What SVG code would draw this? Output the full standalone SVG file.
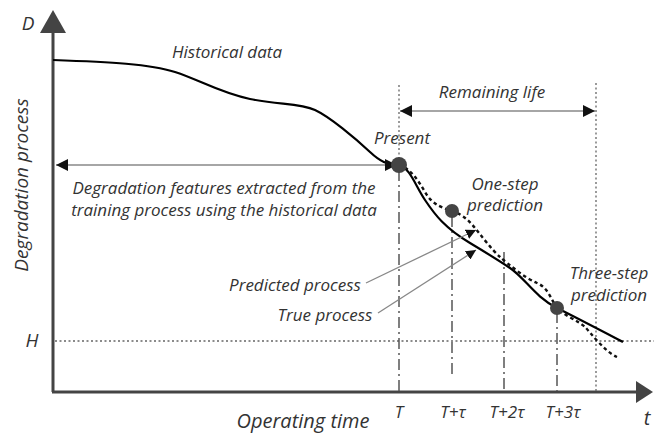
<svg xmlns="http://www.w3.org/2000/svg" width="654" height="434" viewBox="0 0 654 434">
  <defs>
    <style>
      .lbl { font-family: "Open Sans", "Liberation Sans", sans-serif; font-style: italic; fill: #333; }
      .s14 { font-size: 17px; }
      .s17 { font-size: 20px; }
      .axis { stroke: #444; stroke-width: 3; fill: none; }
      .guide { stroke: #666; stroke-width: 1.3; stroke-dasharray: 2,2.5; fill: none; }
      .dashdot { stroke: #555; stroke-width: 1.5; stroke-dasharray: 11,4,2,4; fill: none; }
      .thin { stroke: #888; stroke-width: 1.3; fill: none; }
      .curve { stroke: #000; stroke-width: 2.2; fill: none; }
      .pred { stroke: #111; stroke-width: 2.4; stroke-dasharray: 3.5,3; fill: none; }
      .dot { fill: #444; }
    </style>
    <marker id="tri" viewBox="0 0 10 10" refX="10" refY="5" markerWidth="10" markerHeight="10" markerUnits="userSpaceOnUse" orient="auto-start-reverse">
      <path d="M0,0 L10,5 L0,10 Z" fill="#111"/>
    </marker>
    <marker id="triBig" viewBox="0 0 10 10" refX="10" refY="5" markerWidth="24" markerHeight="12" markerUnits="userSpaceOnUse" orient="auto-start-reverse">
      <path d="M0,0 L10,5 L0,10 Z" fill="#111"/>
    </marker>
  </defs>
  <rect width="654" height="434" fill="#fff"/>

  <!-- axes -->
  <g id="axes">
    <line class="axis" x1="53" y1="392" x2="53" y2="30"/>
    <path d="M40,33 L53,10 L66,33 Z" fill="#444"/>
    <line class="axis" x1="52" y1="392" x2="638" y2="392"/>
    <path d="M636,381 L653,392 L636,403 Z" fill="#444"/>
    <text class="lbl" x="28" y="30" text-anchor="middle" font-size="19">D</text>
    <text class="lbl" x="647" y="425" text-anchor="middle" font-size="20">t</text>
    <text class="lbl" transform="translate(28,185) rotate(-90)" text-anchor="middle" font-size="19">Degradation process</text>
    <text class="lbl s17" x="303" y="428" text-anchor="middle">Operating time</text>
    <text class="lbl" x="32" y="347" text-anchor="middle" font-size="19">H</text>
  </g>

  <!-- threshold and guide lines -->
  <g id="guides">
    <line class="guide" x1="55" y1="341" x2="654" y2="341"/>
    <line class="guide" x1="399" y1="85" x2="399" y2="160"/>
    <line class="guide" x1="596" y1="83" x2="596" y2="391"/>
    <line class="dashdot" x1="399" y1="170" x2="399" y2="391"/>
    <line class="dashdot" x1="452" y1="216" x2="452" y2="378"/>
    <line class="dashdot" x1="504" y1="252" x2="504" y2="391"/>
    <line class="dashdot" x1="557" y1="312" x2="557" y2="391"/>
  </g>

  <!-- time ticks -->
  <g id="ticks">
    <text class="lbl s14" x="399" y="418" text-anchor="middle">T</text>
    <text class="lbl s14" x="453" y="418" text-anchor="middle">T+τ</text>
    <text class="lbl s14" x="507" y="418" text-anchor="middle">T+2τ</text>
    <text class="lbl s14" x="563" y="418" text-anchor="middle">T+3τ</text>
  </g>

  <!-- degradation curves -->
  <g id="curves">
    <path class="curve" d="M53,60 C110,62 150,64 175,72 S220,93 250,99 S300,103 315,110 S355,138 370,152 S390,163 399,165"/>
    <path class="curve" d="M399,165 C410,168 415,185 425,200 S445,228 470,243 S495,258 510,268 S535,297 557,308 S600,330 623,342"/>
    <path class="pred" d="M399,165 C410,168 418,180 425,192 S440,207 452,211 S470,222 475,228 S492,250 500,257 S525,278 537,283 S552,302 557,308 S580,322 585,327 S605,352 617,357"/>
  </g>

  <!-- connectors -->
  <g id="connectors">
    <line class="thin" x1="56" y1="165" x2="397" y2="165" marker-start="url(#triBig)" marker-end="url(#triBig)"/>
    <line class="thin" x1="400" y1="111" x2="595" y2="111" marker-start="url(#triBig)" marker-end="url(#triBig)"/>
    <line class="thin" x1="366" y1="283" x2="476" y2="230" marker-end="url(#tri)"/>
    <line class="thin" x1="378" y1="313" x2="476" y2="250" marker-end="url(#tri)"/>
  </g>

  <!-- key points -->
  <g id="present">
    <circle class="dot" cx="399" cy="165" r="8"/>
    <text class="lbl s14" x="402" y="144" text-anchor="middle">Present</text>
  </g>
  <g id="one-step">
    <circle class="dot" cx="452" cy="211" r="7"/>
    <text class="lbl s14" x="505" y="190" text-anchor="middle">One-step</text>
    <text class="lbl s14" x="505" y="211" text-anchor="middle">prediction</text>
  </g>
  <g id="three-step">
    <circle class="dot" cx="557" cy="308" r="7"/>
    <text class="lbl s14" x="609" y="279" text-anchor="middle">Three-step</text>
    <text class="lbl s14" x="609" y="301" text-anchor="middle">prediction</text>
  </g>

  <!-- annotations -->
  <g id="labels">
    <text class="lbl s14" x="227" y="58" text-anchor="middle">Historical data</text>
    <text class="lbl s14" x="492" y="98" text-anchor="middle">Remaining life</text>
    <text class="lbl s14" x="224" y="194" text-anchor="middle">Degradation features extracted from the</text>
    <text class="lbl s14" x="224" y="216" text-anchor="middle">training process using the historical data</text>
    <text class="lbl s14" x="295" y="291" text-anchor="middle">Predicted process</text>
    <text class="lbl s14" x="325" y="321" text-anchor="middle">True process</text>
  </g>
</svg>
